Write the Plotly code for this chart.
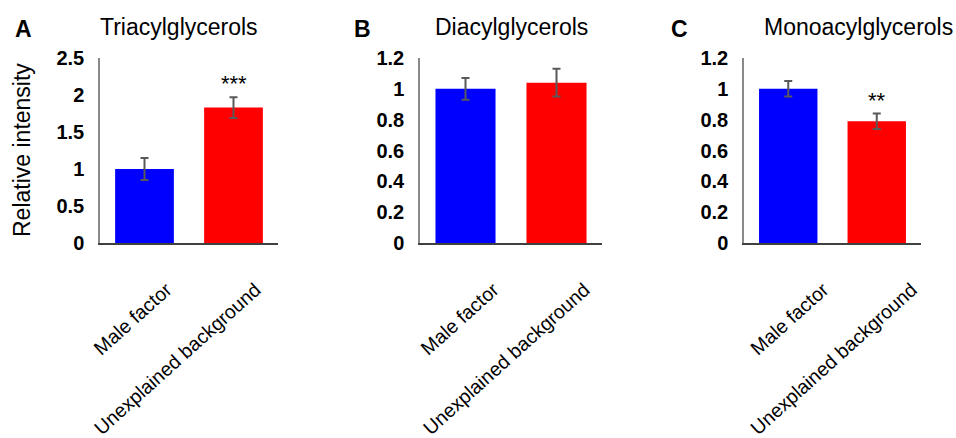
import plotly.graph_objects as go

categories = ["Male factor", "Unexplained background"]
colors = ["#0000FF", "#FF0000"]

panel_letters = ["A", "B", "C"]
panel_titles = ["Triacylglycerols", "Diacylglycerols", "Monoacylglycerols"]
y_title = "Relative intensity"

tag_values = [1.0, 1.83]
tag_errors = [0.15, 0.14]
dag_values = [1.0, 1.04]
dag_errors = [0.07, 0.09]
mag_values = [1.0, 0.79]
mag_errors = [0.05, 0.05]

tag_sig = ["", "***"]
dag_sig = ["", ""]
mag_sig = ["", "**"]

y_ranges = [[0, 2.5], [0, 1.2], [0, 1.2]]
y_dticks = [0.5, 0.2, 0.2]

W, H = 956, 438
x_domains_px = [(100, 278), (420, 602), (744, 921)]
y_domain_px = (58, 243)  # top, bottom in pixels
label_shifts = [22, 28, 35]

FONT = "Arial, Liberation Sans, sans-serif"

panels = [
    (tag_values, tag_errors, tag_sig),
    (dag_values, dag_errors, dag_sig),
    (mag_values, mag_errors, mag_sig),
]

fig = go.Figure()
annotations = []
ydom = [(H - y_domain_px[1]) / H, (H - y_domain_px[0]) / H]

for i, (vals, errs, sig) in enumerate(panels):
    n = "" if i == 0 else str(i + 1)
    xa, ya = "x" + n, "y" + n
    fig.add_trace(go.Bar(
        x=categories, y=vals,
        marker=dict(color=colors, line=dict(width=0)),
        error_y=dict(type="data", array=errs, visible=True,
                     color="#595959", thickness=2, width=4),
        xaxis=xa, yaxis=ya, showlegend=False,
    ))
    xd = [x_domains_px[i][0] / W, x_domains_px[i][1] / W]
    fig.layout["xaxis" + n] = dict(
        domain=xd, anchor=ya, showline=True, linecolor="#404040", linewidth=1.5,
        showgrid=False, zeroline=False, ticks="", tickangle=-42,
        tickfont=dict(family=FONT, size=19.5, color="#000000"),
        ticklabelshift=label_shifts[i], ticklabelstandoff=26,
        automargin=False, fixedrange=True,
    )
    fig.layout["yaxis" + n] = dict(
        domain=ydom, anchor=xa, range=y_ranges[i], dtick=y_dticks[i],
        showline=True, linecolor="#898989", linewidth=1.5,
        showgrid=False, zeroline=False, ticks="",
        tickfont=dict(family=FONT, size=20, color="#000000", weight="bold"),
        ticklabelstandoff=10,
        automargin=False, fixedrange=True,
    )
    for c, v, e, s in zip(categories, vals, errs, sig):
        if s:
            annotations.append(dict(
                x=c, y=v + e, xref=xa, yref=ya, text=s, showarrow=False,
                yanchor="bottom", yshift=-1,
                font=dict(family=FONT, size=22, color="#000000"),
            ))

title_centers = [179, 512, 858]
letter_centers = [23, 362, 679]
for i in range(3):
    annotations.append(dict(
        x=title_centers[i] / W, y=(H - 27) / H, xref="paper", yref="paper",
        text=panel_titles[i], showarrow=False, xanchor="center", yanchor="middle",
        font=dict(family=FONT, size=23, color="#000000"),
    ))
    annotations.append(dict(
        x=letter_centers[i] / W, y=(H - 29) / H, xref="paper", yref="paper",
        text="<b>" + panel_letters[i] + "</b>", showarrow=False,
        xanchor="center", yanchor="middle",
        font=dict(family=FONT, size=23, color="#000000"),
    ))

annotations.append(dict(
    x=22 / W, y=(H - 150) / H, xref="paper", yref="paper",
    text=y_title, showarrow=False, textangle=-90,
    xanchor="center", yanchor="middle",
    font=dict(family=FONT, size=23, color="#000000"),
))

fig.update_layout(
    width=W, height=H,
    margin=dict(l=0, r=0, t=0, b=0, autoexpand=False),
    paper_bgcolor="white", plot_bgcolor="white",
    bargap=0.34,
    annotations=annotations,
    font=dict(family=FONT),
)

fig.write_html("out.html", config={"displayModeBar": False},
               post_script="document.body.style.margin='0';document.body.style.overflow='hidden';")
